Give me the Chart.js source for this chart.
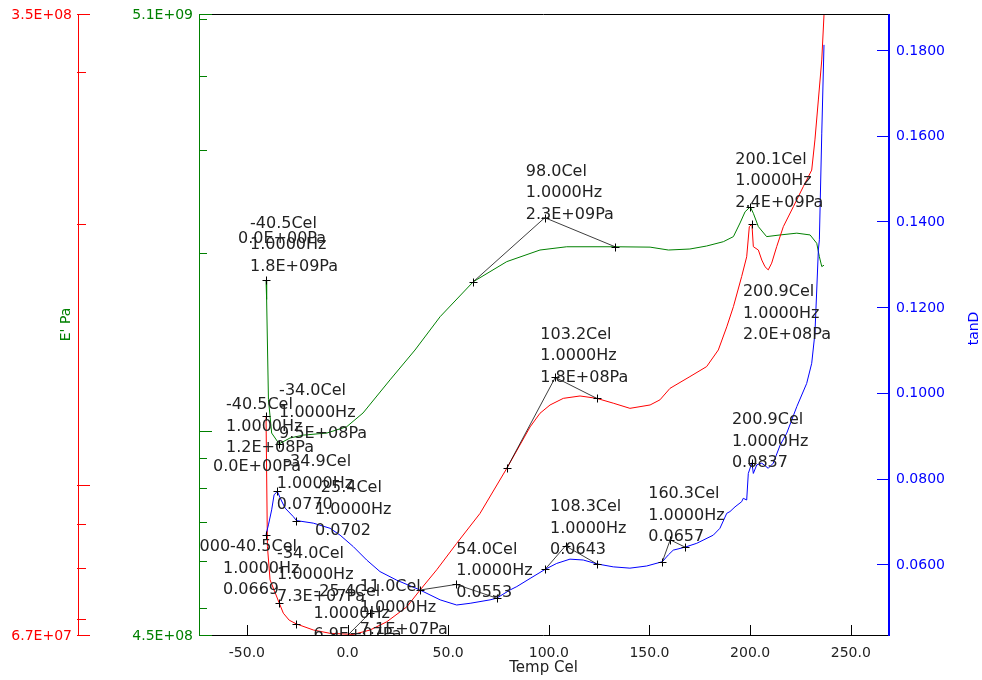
<!DOCTYPE html>
<html>
<head>
<meta charset="utf-8">
<script src="https://cdn.jsdelivr.net/npm/chart.js@4.4.1/dist/chart.umd.min.js"></script>
<style>
  html, body { margin: 0; padding: 0; background: #fff; }
  #wrap { width: 982px; height: 680px; position: relative; }
</style>
</head>
<body>
<div id="wrap"><canvas id="dma"></canvas></div>
<script>
// ---- Temperature sweep at 1.0000 Hz ----
// Storage modulus E' (Pa)
const storageTemp = [-40.5, -40.2, -39.3, -37.7, -34.0, -28.6, -22.1, -10.3, -0.4, 7.7, 21.1, 33.5, 46.0, 62.5,
  79.1, 95.6, 108.9, 132.9, 150.3, 159.4, 170.1, 178.4, 186.7, 191.7, 195.0, 197.5, 200.1, 201.6, 204.1,
  208.2, 214.9, 223.2, 229.8, 233.1, 234.4, 235.6, 236.7];
const storageModulus = [1.80e9, 1.67e9, 1.13e9, 9.91e8, 9.50e8, 9.72e8, 9.83e8, 9.91e8, 1.016e9, 1.072e9, 1.22e9,
  1.371e9, 1.562e9, 1.791e9, 1.937e9, 2.027e9, 2.053e9, 2.053e9, 2.05e9, 2.027e9, 2.035e9, 2.059e9, 2.094e9,
  2.136e9, 2.253e9, 2.354e9, 2.40e9, 2.34e9, 2.221e9, 2.136e9, 2.150e9, 2.165e9, 2.150e9, 2.081e9, 1.975e9,
  1.90e9, 1.91e9];

// Loss modulus E'' (Pa)
const lossTemp = [-40.5, -39.8, -38.5, -34.0, -31.9, -29.0, -25.4, -17.0, -8.7, 2.9, 11.2, 19.5, 29.4, 36.0, 44.3,
  54.2, 65.8, 79.1, 90.7, 95.6, 100.6, 107.2, 115.5, 123.8, 132.0, 140.3, 150.3, 155.2, 160.2, 170.1, 178.4,
  184.2, 188.4, 191.7, 195.8, 198.3, 199.6, 200.9, 201.6, 204.1, 205.8, 207.4, 209.0, 210.7, 213.2, 216.5,
  221.5, 226.4, 230.6, 232.2, 233.9, 235.6, 236.7, 237.2];
const lossModulus = [1.2e8, 8.48e7, 7.76e7, 7.3e7, 7.10e7, 6.97e7, 6.9e7, 6.79e7, 6.73e7, 6.71e7, 6.79e7, 6.94e7,
  7.22e7, 7.55e7, 7.97e7, 8.55e7, 9.26e7, 1.044e8, 1.166e8, 1.209e8, 1.236e8, 1.258e8, 1.266e8, 1.258e8,
  1.242e8, 1.225e8, 1.236e8, 1.253e8, 1.292e8, 1.333e8, 1.369e8, 1.431e8, 1.522e8, 1.606e8, 1.74e8, 1.834e8,
  1.987e8, 2.0e8, 1.884e8, 1.867e8, 1.818e8, 1.786e8, 1.771e8, 1.803e8, 1.884e8, 1.987e8, 2.096e8, 2.21e8,
  2.31e8, 2.503e8, 2.784e8, 3.097e8, 3.49e8, 3.6e8];

// Loss factor tanD
const tanTemp = [-40.5, -39.3, -37.7, -36.5, -34.9, -33.0, -31.0, -26.9, -25.4, -17.0, -8.7, -3.7, 2.9, 9.5, 16.1,
  24.4, 36.0, 46.0, 54.2, 60.9, 70.8, 74.1, 80.7, 84.1, 90.7, 98.1, 103.9, 110.5, 117.1, 123.8, 132.0, 140.3,
  148.6, 156.4, 159.4, 161.8, 167.7, 173.5, 181.7, 185.0, 188.4, 190.0, 192.5, 195.8, 196.6, 198.3, 199.1,
  200.9, 201.6, 203.3, 205.8, 209.0, 211.5, 214.9, 218.2, 223.2, 228.1, 230.6, 232.2, 233.1, 233.9, 234.4,
  235.6, 236.7];
const tanDelta = [0.0669, 0.0692, 0.0727, 0.0762, 0.0770, 0.0750, 0.0731, 0.0711, 0.0702, 0.0696, 0.0684, 0.0668,
  0.0641, 0.0610, 0.0583, 0.0563, 0.0540, 0.0517, 0.0505, 0.0509, 0.0517, 0.0521, 0.0540, 0.0548, 0.0567,
  0.0588, 0.0602, 0.0612, 0.0610, 0.0601, 0.0594, 0.0591, 0.0596, 0.0606, 0.0622, 0.0633, 0.0640, 0.0649,
  0.0668, 0.0684, 0.0719, 0.0723, 0.0734, 0.0746, 0.0754, 0.0750, 0.0812, 0.0837, 0.0812, 0.0832, 0.0836,
  0.0824, 0.0836, 0.0878, 0.0906, 0.0968, 0.1022, 0.1069, 0.1139, 0.1240, 0.1333, 0.1357, 0.1606, 0.1812];

// ---- Axis ticks ----
const tempTicks = [-50, 0, 50, 100, 150, 200, 250];
const storageTicks = [4.5e8, 5e8, 6e8, 7e8, 8e8, 9e8, 1e9, 2e9, 3e9, 4e9, 5e9, 5.1e9];
const storageMajor = [4.5e8, 1e9, 5.1e9];
const lossTicks = [6.7e7, 7e7, 8e7, 9e7, 1e8, 2e8, 3e8, 3.5e8];
const lossMajor = [6.7e7, 1e8, 3.5e8];
const tanTicks = [0.06, 0.08, 0.10, 0.12, 0.14, 0.16, 0.18];

// ---- Analysis marks: [axis, temperature, value] ----
const markPoints = [
  ['yStorage', -40.5, 1.8e9], ['yStorage', -34.0, 9.5e8], ['yStorage', 62.5, 1.791e9],
  ['yStorage', 98.0, 2.3e9], ['yStorage', 132.9, 2.053e9], ['yStorage', 200.1, 2.4e9],
  ['yLoss', -40.5, 1.2e8], ['yLoss', -34.0, 7.3e7], ['yLoss', -25.4, 6.9e7], ['yLoss', 11.0, 7.1e7],
  ['yLoss', 79.1, 1.044e8], ['yLoss', 103.2, 1.33e8], ['yLoss', 123.8, 1.258e8], ['yLoss', 200.9, 2.0e8],
  ['yTan', -40.5, 0.0669], ['yTan', -34.9, 0.0770], ['yTan', -25.4, 0.0702], ['yTan', 36.0, 0.0540],
  ['yTan', 54.0, 0.0553], ['yTan', 74.1, 0.0521], ['yTan', 98.1, 0.0588], ['yTan', 108.3, 0.0643],
  ['yTan', 123.8, 0.0601], ['yTan', 156.4, 0.0606], ['yTan', 160.3, 0.0657], ['yTan', 167.7, 0.0640],
  ['yTan', 200.9, 0.0837]
];

// Tangent constructions (onset readings)
const tangentLines = [
  ['yStorage', [[62.5, 1.791e9], [98.0, 2.3e9], [132.9, 2.053e9]]],
  ['yLoss', [[79.1, 1.044e8], [103.2, 1.33e8], [123.8, 1.258e8]]],
  ['yLoss', [[-1.2, 6.65e7], [11.0, 7.1e7]]],
  ['yTan', [[36.0, 0.0540], [54.0, 0.0553], [74.1, 0.0521]]],
  ['yTan', [[98.1, 0.0588], [108.3, 0.0643], [123.8, 0.0601]]],
  ['yTan', [[156.4, 0.0606], [160.3, 0.0657], [167.7, 0.0640]]]
];

// Readout labels anchored at analysis points
const readouts = [
  { axis: 'yStorage', t: -40.5, v: 1.8e9, dx: -16, dy: -57, lines: ['-40.5Cel', '1.0000Hz', '1.8E+09Pa'] },
  { axis: 'yStorage', t: -40.5, v: 1.8e9, dx: -28, dy: -42, lines: ['0.0E+00Pa'] },
  { axis: 'yStorage', t: -34.0, v: 9.5e8, dx: 0, dy: -53, lines: ['-34.0Cel', '1.0000Hz', '9.5E+08Pa'] },
  { axis: 'yStorage', t: 98.0, v: 2.3e9, dx: -19, dy: -46, lines: ['98.0Cel', '1.0000Hz', '2.3E+09Pa'] },
  { axis: 'yStorage', t: 200.1, v: 2.4e9, dx: -15, dy: -47, lines: ['200.1Cel', '1.0000Hz', '2.4E+09Pa'] },
  { axis: 'yLoss', t: -40.5, v: 1.2e8, dx: -40, dy: -11, lines: ['-40.5Cel', '1.0000Hz', '1.2E+08Pa'] },
  { axis: 'yLoss', t: -40.5, v: 1.2e8, dx: -53, dy: 51, lines: ['0.0E+00Pa'] },
  { axis: 'yLoss', t: -34.0, v: 7.3e7, dx: -2, dy: -49, lines: ['-34.0Cel', '1.0000Hz', '7.3E+07Pa'] },
  { axis: 'yLoss', t: -25.4, v: 6.9e7, dx: 17, dy: -32, lines: ['-25.4Cel', '1.0000Hz', '6.9E+07Pa'] },
  { axis: 'yLoss', t: 11.0, v: 7.1e7, dx: -10, dy: -26.5, lines: ['11.0Cel', '1.0000Hz', '7.1E+07Pa'] },
  { axis: 'yLoss', t: 103.2, v: 1.33e8, dx: -15, dy: -43, lines: ['103.2Cel', '1.0000Hz', '1.8E+08Pa'] },
  { axis: 'yLoss', t: 200.9, v: 2.0e8, dx: -9, dy: 68, lines: ['200.9Cel', '1.0000Hz', '2.0E+08Pa'] },
  { axis: 'yTan', t: -40.5, v: 0.0669, dx: -66.5, dy: 12, lines: ['000-40.5Cel'] },
  { axis: 'yTan', t: -40.5, v: 0.0669, dx: -43, dy: 34, lines: ['1.0000Hz', '0.0669'] },
  { axis: 'yTan', t: -34.9, v: 0.0770, dx: 7, dy: -30, lines: ['-34.9Cel'] },
  { axis: 'yTan', t: -34.9, v: 0.0770, dx: -0.5, dy: -8, lines: ['1.0000Hz', '0.0770'] },
  { axis: 'yTan', t: -25.4, v: 0.0702, dx: 18.6, dy: -32.3, lines: ['-25.4Cel', '1.0000Hz', '0.0702'] },
  { axis: 'yTan', t: 54.0, v: 0.0553, dx: 0, dy: -35, lines: ['54.0Cel', '1.0000Hz', '0.0553'] },
  { axis: 'yTan', t: 108.3, v: 0.0643, dx: -15.5, dy: -39, lines: ['108.3Cel', '1.0000Hz', '0.0643'] },
  { axis: 'yTan', t: 160.3, v: 0.0657, dx: -22, dy: -45.6, lines: ['160.3Cel', '1.0000Hz', '0.0657'] },
  { axis: 'yTan', t: 200.9, v: 0.0837, dx: -20, dy: -42.7, lines: ['200.9Cel', '1.0000Hz', '0.0837'] }
];

// ---- Styling ----
const GREEN = 'rgb(0,128,0)';
const RED = 'rgb(255,0,0)';
const BLUE = 'rgb(0,0,255)';
const INK = '#222';
const FONT = '"DejaVu Sans", Verdana, sans-serif';

function sci(v) {
  const [m, e] = v.toExponential(1).split('e');
  const sign = e[0] === '-' ? '-' : '+';
  return m + 'E' + sign + e.replace(/^[-+]/, '').padStart(2, '0');
}

function pairs(xs, ys) { return xs.map((x, i) => ({ x: x, y: ys[i] })); }

const dmaFrame = {
  id: 'dmaFrame',
  afterDatasetsDraw(chart) {
    const ctx = chart.ctx;
    const a = chart.chartArea;
    const sx = chart.scales.x;
    const px = (t) => sx.getPixelForValue(t);
    const py = (axis, v) => chart.scales[axis].getPixelForValue(v);

    // annotations, clipped to the plot area
    ctx.save();
    ctx.beginPath();
    ctx.rect(a.left, a.top, a.right - a.left, a.bottom - a.top);
    ctx.clip();

    ctx.strokeStyle = 'rgba(0,0,0,0.85)';
    ctx.lineWidth = 0.9;
    tangentLines.forEach(([axis, pts]) => {
      ctx.beginPath();
      pts.forEach(([t, v], i) => {
        const X = px(t), Y = py(axis, v);
        if (i === 0) ctx.moveTo(X, Y); else ctx.lineTo(X, Y);
      });
      ctx.stroke();
    });

    ctx.strokeStyle = '#000';
    ctx.lineWidth = 1;
    markPoints.forEach(([axis, t, v]) => {
      const X = Math.round(px(t)) + 0.5, Y = Math.round(py(axis, v)) + 0.5;
      ctx.beginPath();
      ctx.moveTo(X - 4, Y); ctx.lineTo(X + 4, Y);
      ctx.moveTo(X, Y - 4); ctx.lineTo(X, Y + 4);
      ctx.stroke();
    });

    ctx.fillStyle = INK;
    ctx.font = '16px ' + FONT;
    ctx.textAlign = 'left';
    ctx.textBaseline = 'middle';
    readouts.forEach(r => {
      const X = px(r.t) + r.dx, Y = py(r.axis, r.v) + r.dy;
      r.lines.forEach((s, i) => ctx.fillText(s, X, Y + i * 21.5));
    });
    ctx.restore();

    // frame and axes
    ctx.save();
    ctx.lineWidth = 1;
    ctx.strokeStyle = '#000';
    ctx.beginPath();
    ctx.moveTo(a.left, a.top + 0.5); ctx.lineTo(a.right, a.top + 0.5);
    ctx.moveTo(a.left, a.bottom + 0.5); ctx.lineTo(a.right, a.bottom + 0.5);
    ctx.stroke();

    // temperature axis
    ctx.beginPath();
    tempTicks.forEach(t => {
      const X = Math.round(px(t)) + 0.5;
      ctx.moveTo(X, a.bottom - 10); ctx.lineTo(X, a.bottom);
    });
    ctx.stroke();
    ctx.fillStyle = INK;
    ctx.font = '14px ' + FONT;
    ctx.textAlign = 'center';
    ctx.textBaseline = 'middle';
    tempTicks.forEach(t => ctx.fillText(t.toFixed(1), px(t), a.bottom + 18));
    ctx.font = '15px ' + FONT;
    ctx.fillText('Temp Cel', (a.left + a.right) / 2, a.bottom + 33);

    // E' axis (green, inner left)
    const ys = chart.scales.yStorage;
    ctx.strokeStyle = GREEN;
    ctx.beginPath();
    ctx.moveTo(a.left + 0.5, a.top); ctx.lineTo(a.left + 0.5, a.bottom + 1);
    storageTicks.forEach(v => {
      const Y = Math.round(ys.getPixelForValue(v)) + 0.5;
      const len = storageMajor.includes(v) ? 13 : 8;
      ctx.moveTo(a.left, Y); ctx.lineTo(a.left + len, Y);
    });
    ctx.stroke();
    ctx.fillStyle = GREEN;
    ctx.font = '14px ' + FONT;
    ctx.textAlign = 'right';
    ctx.fillText(sci(ys.max), a.left - 6, ys.getPixelForValue(ys.max) + 1);
    ctx.fillText(sci(ys.min), a.left - 6, ys.getPixelForValue(ys.min) + 1);

    // E'' axis (red, outer left)
    const yl = chart.scales.yLoss;
    const redX = 78;
    ctx.strokeStyle = RED;
    ctx.beginPath();
    ctx.moveTo(redX + 0.5, a.top); ctx.lineTo(redX + 0.5, a.bottom + 1);
    lossTicks.forEach(v => {
      const Y = Math.round(yl.getPixelForValue(v)) + 0.5;
      const len = lossMajor.includes(v) ? 12 : 8;
      ctx.moveTo(redX - 1, Y); ctx.lineTo(redX + len, Y);
    });
    ctx.stroke();
    ctx.fillStyle = RED;
    ctx.fillText(sci(yl.max), redX - 6, yl.getPixelForValue(yl.max) + 1);
    ctx.fillText(sci(yl.min), redX - 6, yl.getPixelForValue(yl.min) + 1);

    // E' title
    ctx.save();
    ctx.translate(66, (a.top + a.bottom) / 2);
    ctx.rotate(-Math.PI / 2);
    ctx.textAlign = 'center';
    ctx.fillStyle = GREEN;
    ctx.font = '14px ' + FONT;
    ctx.fillText("E' Pa", 0, 0);
    ctx.restore();

    // tanD axis (blue, right)
    const yt = chart.scales.yTan;
    ctx.strokeStyle = BLUE;
    ctx.lineWidth = 2;
    ctx.beginPath();
    ctx.moveTo(a.right + 1, a.top); ctx.lineTo(a.right + 1, a.bottom + 1);
    ctx.stroke();
    ctx.lineWidth = 1;
    ctx.beginPath();
    tanTicks.forEach(v => {
      const Y = Math.round(yt.getPixelForValue(v)) + 0.5;
      ctx.moveTo(a.right - 11, Y); ctx.lineTo(a.right, Y);
    });
    ctx.stroke();
    ctx.fillStyle = BLUE;
    ctx.textAlign = 'left';
    tanTicks.forEach(v => ctx.fillText(v.toFixed(4), a.right + 8, yt.getPixelForValue(v) + 1));
    ctx.save();
    ctx.translate(974, (a.top + a.bottom) / 2 + 4);
    ctx.rotate(-Math.PI / 2);
    ctx.textAlign = 'center';
    ctx.fillText('tanD', 0, 0);
    ctx.restore();

    ctx.restore();
  }
};

new Chart(document.getElementById('dma'), {
  type: 'line',
  data: {
    datasets: [
      { label: 'tanD', data: pairs(tanTemp, tanDelta), yAxisID: 'yTan',
        borderColor: BLUE, borderWidth: 1, pointRadius: 0, tension: 0, fill: false },
      { label: "E''", data: pairs(lossTemp, lossModulus), yAxisID: 'yLoss',
        borderColor: RED, borderWidth: 1, pointRadius: 0, tension: 0, fill: false },
      { label: "E'", data: pairs(storageTemp, storageModulus), yAxisID: 'yStorage',
        borderColor: GREEN, borderWidth: 1, pointRadius: 0, tension: 0, fill: false }
    ]
  },
  options: {
    responsive: true,
    maintainAspectRatio: false,
    animation: false,
    devicePixelRatio: 1,
    layout: { padding: { left: 199, right: 94, top: 14, bottom: 45 } },
    plugins: { legend: { display: false }, tooltip: { enabled: false } },
    scales: {
      x: { type: 'linear', min: -73.8, max: 268.5, display: false },
      yStorage: { type: 'logarithmic', position: 'left', min: 4.5e8, max: 5.1e9, display: false },
      yLoss: { type: 'logarithmic', position: 'left', min: 6.7e7, max: 3.5e8, display: false },
      yTan: { type: 'linear', position: 'right', min: 0.0435, max: 0.1884, display: false }
    }
  },
  plugins: [dmaFrame]
});
</script>
</body>
</html>
